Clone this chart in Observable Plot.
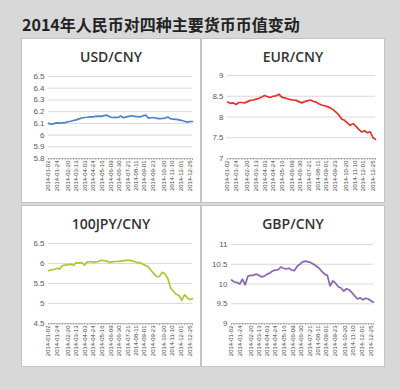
<!DOCTYPE html>
<html><head><meta charset="utf-8">
<script src="https://cdn.jsdelivr.net/npm/d3@7"></script>
<script src="https://cdn.jsdelivr.net/npm/@observablehq/plot@0.6"></script>
<style>
body{margin:0;background:#d8d8d8;}
#root{position:relative;width:400px;height:390px;background:#d8d8d8;overflow:hidden;}
.title{position:absolute;left:22px;top:12px;font:bold 16px "Noto Sans CJK SC",sans-serif;color:#222;white-space:nowrap;}
.panel{position:absolute;background:#fff;box-shadow:0 0 0 1px #c4c4c4;}
.ptitle{position:absolute;left:0;right:0;top:8px;text-align:center;font:600 14px "Open Sans",sans-serif;color:#333;z-index:2;}
.panel svg{position:absolute;left:0;top:0;}
</style></head>
<body><div id="root"><div class="title">2014年人民币对四种主要货币币值变动</div></div>
<script>
const dates = ["2014-01-02","2014-01-09","2014-01-16","2014-01-23","2014-01-30","2014-02-06","2014-02-13","2014-02-20","2014-02-27","2014-03-06","2014-03-13","2014-03-20","2014-03-27","2014-04-03","2014-04-10","2014-04-17","2014-04-24","2014-05-01","2014-05-08","2014-05-15","2014-05-22","2014-05-29","2014-06-05","2014-06-12","2014-06-19","2014-06-26","2014-07-03","2014-07-10","2014-07-17","2014-07-24","2014-07-31","2014-08-07","2014-08-14","2014-08-21","2014-08-28","2014-09-04","2014-09-11","2014-09-18","2014-09-25","2014-10-02","2014-10-09","2014-10-16","2014-10-23","2014-10-30","2014-11-06","2014-11-13","2014-11-20","2014-11-27","2014-12-04","2014-12-11","2014-12-18","2014-12-25","2014-12-31"];
const usd = [6.100,6.092,6.098,6.104,6.102,6.104,6.106,6.114,6.118,6.124,6.130,6.138,6.146,6.150,6.152,6.156,6.155,6.160,6.162,6.160,6.166,6.170,6.156,6.150,6.152,6.150,6.162,6.148,6.155,6.160,6.165,6.160,6.158,6.155,6.165,6.170,6.145,6.148,6.150,6.142,6.140,6.142,6.145,6.155,6.138,6.136,6.134,6.130,6.124,6.118,6.110,6.116,6.116];
const eur = [8.36,8.33,8.34,8.30,8.35,8.35,8.34,8.37,8.40,8.41,8.43,8.45,8.48,8.52,8.49,8.47,8.50,8.51,8.55,8.48,8.46,8.44,8.42,8.41,8.40,8.37,8.34,8.37,8.39,8.41,8.38,8.36,8.32,8.29,8.27,8.25,8.22,8.18,8.12,8.05,7.95,7.92,7.86,7.80,7.84,7.78,7.70,7.64,7.67,7.62,7.64,7.50,7.46];
const jpy = [5.82,5.84,5.85,5.88,5.86,5.95,5.96,5.97,5.98,5.95,6.02,6.01,6.02,5.96,6.04,6.05,6.03,6.04,6.05,6.08,6.07,6.06,6.03,6.04,6.05,6.05,6.06,6.07,6.08,6.08,6.07,6.05,6.02,6.02,5.98,5.95,5.91,5.82,5.74,5.67,5.68,5.78,5.74,5.62,5.38,5.30,5.23,5.20,5.08,5.22,5.14,5.10,5.12];
const gbp = [10.10,10.05,10.04,10.00,10.12,9.98,10.20,10.22,10.22,10.25,10.22,10.18,10.20,10.25,10.28,10.33,10.35,10.36,10.43,10.40,10.38,10.40,10.35,10.34,10.45,10.50,10.56,10.58,10.56,10.54,10.50,10.45,10.40,10.32,10.25,10.22,9.95,10.08,10.02,9.93,9.90,9.82,9.88,9.85,9.78,9.70,9.62,9.65,9.60,9.64,9.62,9.57,9.54];
const tickLabels = ["2014-01-02","2014-01-24","2014-02-20","2014-03-13","2014-04-03","2014-04-24","2014-05-16","2014-06-09","2014-06-30","2014-07-21","2014-08-11","2014-09-01","2014-09-23","2014-10-20","2014-11-10","2014-12-01","2014-12-25"];
const usdTicks = [5.8,5.9,6,6.1,6.2,6.3,6.4,6.5];
const eurTicks = [7,7.5,8,8.5,9];
const jpyTicks = [4.5,5,5.5,6,6.5];
const gbpTicks = [9,9.5,10,10.5,11];

const panels = [
  {name:"USD/CNY", vals:usd, ticks:usdTicks, color:"#4a84c6", left:22, top:39, w:178, h:163, mt:37, mb:44, ml:26, mr:8},
  {name:"EUR/CNY", vals:eur, ticks:eurTicks, color:"#e3302b", left:202, top:39, w:182, h:163, mt:36, mb:44, ml:25, mr:9},
  {name:"100JPY/CNY", vals:jpy, ticks:jpyTicks, color:"#a6c83a", left:22, top:206, w:178, h:160, mt:37, mb:43, ml:26, mr:8},
  {name:"GBP/CNY", vals:gbp, ticks:gbpTicks, color:"#8a66ae", left:202, top:206, w:182, h:160, mt:38, mb:43, ml:29, mr:11}
];
const parse = d3.utcParse("%Y-%m-%d");
const fmtDate = d3.utcFormat("%Y-%m-%d");
const root = document.getElementById("root");
for (const p of panels) {
  const data = dates.map((d,i) => ({date: parse(d), value: p.vals[i]}));
  const lo = p.ticks[0], hi = p.ticks[p.ticks.length-1];
  const div = document.createElement("div");
  div.className = "panel";
  Object.assign(div.style, {left:p.left+"px", top:p.top+"px", width:p.w+"px", height:p.h+"px"});
  const t = document.createElement("div");
  t.className = "ptitle"; t.textContent = p.name;
  div.appendChild(t);
  const svg = Plot.plot({
    width:p.w, height:p.h, marginTop:p.mt, marginBottom:p.mb, marginLeft:p.ml, marginRight:p.mr,
    style:{background:"transparent", fontFamily:"'Liberation Sans', Arial, sans-serif", fontSize:"8px", color:"#595959"},
    x:{type:"utc", domain:[parse("2014-01-02"), parse("2014-12-31")], label:null},
    y:{domain:[lo, hi], label:null},
    marks:[
      Plot.gridY(p.ticks, {stroke:"#d9d9d9", strokeOpacity:1}),
      Plot.axisY(p.ticks, {tickSize:0, tickPadding:4, tickFormat:d => String(+d.toFixed(1)), fontSize:8, label:null}),
      Plot.ruleY([lo], {stroke:"#bfbfbf"}),
      Plot.axisX(dates.map(parse), {tickSize:2, tickFormat:() => "", stroke:"#b0b0b0", label:null}),
      Plot.axisX(tickLabels.map(parse), {tickSize:0, tickPadding:2, tickRotate:-90, tickFormat:fmtDate, fontSize:6, fill:"#444", label:null}),
      Plot.line(data, {x:"date", y:"value", stroke:p.color, strokeWidth:1.7})
    ]
  });
  div.appendChild(svg);
  root.appendChild(div);
}
</script></body></html>
